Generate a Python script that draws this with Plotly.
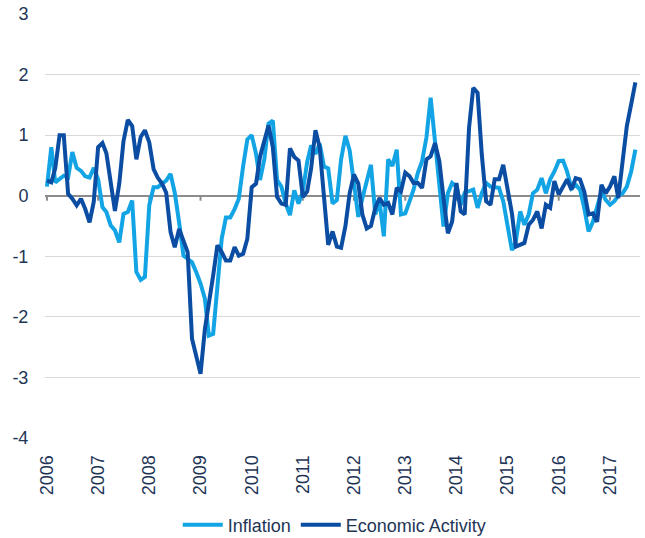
"""Inflation vs economic activity — monthly index, 2006-2017."""
import pandas as pd
import plotly.graph_objects as go

LIGHT_BLUE = "#12A4E4"
DARK_BLUE = "#0B4DA2"
NAVY_TEXT = "#1E3556"
GRID = "#D9D9D9"
AXIS_GREY = "#8C8C8C"

inflation = [
    0.15, 0.8, 0.22, 0.28, 0.33, 0.3, 0.72, 0.46, 0.41, 0.32, 0.3, 0.46,          # 2006
    0.27, -0.19, -0.27, -0.49, -0.57, -0.77, -0.3, -0.27, -0.08, -1.26, -1.39, -1.34,  # 2007
    -0.16, 0.14, 0.14, 0.2, 0.25, 0.36, 0.05, -0.44, -0.99, -1.04, -1.1, -1.26,   # 2008
    -1.45, -1.7, -2.31, -2.28, -1.54, -0.71, -0.36, -0.36, -0.22, -0.05, 0.49, 0.93,  # 2009
    1.0, 0.69, 0.26, 0.6, 1.19, 1.24, 0.26, 0.15, -0.13, -0.32, 0.09, -0.13,      # 2010
    0.07, 0.56, 0.83, 0.69, 0.86, 0.48, 0.45, -0.13, -0.07, 0.6, 0.99, 0.75,      # 2011
    0.2, -0.35, -0.04, 0.25, 0.51, -0.31, -0.09, -0.67, 0.6, 0.49, 0.76, -0.31,   # 2012
    -0.29, -0.09, 0.1, 0.38, 0.57, 0.96, 1.62, 0.9, 0.18, -0.51, 0.04, 0.21,      # 2013
    0.15, -0.15, 0.05, 0.07, 0.1, -0.2, 0.04, 0.21, 0.15, 0.14, 0.13, -0.09,      # 2014
    -0.54, -0.9, -0.76, -0.26, -0.48, -0.31, 0.04, 0.1, 0.29, 0.04, 0.27, 0.4,    # 2015
    0.57, 0.58, 0.4, 0.12, 0.18, 0.1, -0.2, -0.59, -0.43, -0.2, 0.07, -0.07,      # 2016
    -0.15, -0.09, 0.0, 0.04, 0.15, 0.4, 0.76,                                     # 2017
]

econ_activity = [
    0.25, 0.22, 0.45, 1.0, 1.0, 0.03, -0.05, -0.16, -0.05, -0.22, -0.44, -0.1,    # 2006
    0.8, 0.87, 0.7, 0.16, -0.25, 0.2, 0.9, 1.25, 1.15, 0.6, 0.97, 1.08,           # 2007
    0.88, 0.44, 0.3, 0.2, 0.05, -0.6, -0.85, -0.55, -0.77, -0.93, -2.36, -2.64,   # 2008
    -2.94, -2.2, -1.81, -1.32, -0.82, -0.93, -1.07, -1.07, -0.85, -0.99, -0.96, -0.71,  # 2009
    0.14, 0.2, 0.64, 0.91, 1.16, 0.8, -0.02, -0.13, -0.15, 0.78, 0.64, 0.58,      # 2010
    -0.02, 0.07, 0.45, 1.08, 0.8, -0.02, -0.81, -0.59, -0.84, -0.86, -0.5, 0.04,  # 2011
    0.35, 0.2, -0.31, -0.54, -0.5, -0.2, -0.04, -0.15, -0.12, -0.31, 0.13, 0.07,  # 2012
    0.38, 0.32, 0.21, 0.21, 0.13, 0.6, 0.65, 0.87, 0.57, -0.04, -0.62, -0.43,     # 2013
    0.21, -0.26, -0.31, 1.12, 1.78, 1.7, 0.68, -0.09, -0.15, 0.27, 0.27, 0.51,    # 2014
    0.13, -0.29, -0.84, -0.81, -0.78, -0.48, -0.4, -0.26, -0.54, -0.15, -0.2, 0.24,  # 2015
    0.02, 0.15, 0.27, 0.1, 0.29, 0.27, 0.07, -0.31, -0.29, -0.43, 0.18, 0.04,     # 2016
    0.15, 0.32, -0.04, 0.57, 1.15, 1.51, 1.87,                                    # 2017
]

y_ticks = [-4, -3, -2, -1, 0, 1, 2, 3]
y_ticktext = ["-4", "-3", "-2", "-1", "0", "1", "2", "3"]  # plain hyphen like the source

months = pd.date_range("2006-01-01", periods=len(inflation), freq="MS")
year_ticks = pd.date_range("2006-01-01", "2017-01-01", freq="YS")

x_range = ["2005-12-18", "2017-08-03"]
font = dict(family="Liberation Sans, Arial, sans-serif", color=NAVY_TEXT, size=18)

fig = go.Figure()
fig.add_trace(go.Scatter(
    x=months, y=inflation, mode="lines", name="Inflation",
    line=dict(color=LIGHT_BLUE, width=4),
))
fig.add_trace(go.Scatter(
    x=months, y=econ_activity, mode="lines", name="Economic Activity",
    line=dict(color=DARK_BLUE, width=4),
))

# small year ticks hanging below the zero line
for d in year_ticks:
    fig.add_shape(type="line", xref="x", yref="y", x0=d, x1=d,
                  ysizemode="pixel", yanchor=0, y0=0, y1=-5,
                  line=dict(color=AXIS_GREY, width=2), layer="below")

fig.update_layout(
    width=645, height=538,
    margin=dict(l=45, r=5, t=14, b=100),
    plot_bgcolor="#FFFFFF",
    paper_bgcolor="#FFFFFF",
    font=font,
    showlegend=True,
    legend=dict(orientation="h", xref="paper", x=0.487, xanchor="center",
                yref="container", y=13 / 538, yanchor="middle",
                font=dict(size=18), itemwidth=40),
    xaxis=dict(
        type="date", range=x_range, tickvals=year_ticks,
        tickformat="%Y", tickangle=-90, tickfont=dict(size=18),
        showgrid=False, zeroline=False, showline=False, automargin=False,
        ticks="outside", ticklen=9, tickcolor="rgba(0,0,0,0)",
    ),
    yaxis=dict(
        range=[-4, 3], tickvals=y_ticks, ticktext=y_ticktext,
        tickfont=dict(size=18),
        showgrid=True, gridcolor=GRID, gridwidth=1,
        zeroline=True, zerolinecolor=AXIS_GREY, zerolinewidth=2,
        showline=False, ticks="outside", ticklen=12, automargin=False,
        tickcolor="rgba(0,0,0,0)",
    ),
)

# page body margin would shift the figure by 8px
fig.write_html("out.html", config={"displayModeBar": False},
               post_script="document.body.style.margin='0';")
